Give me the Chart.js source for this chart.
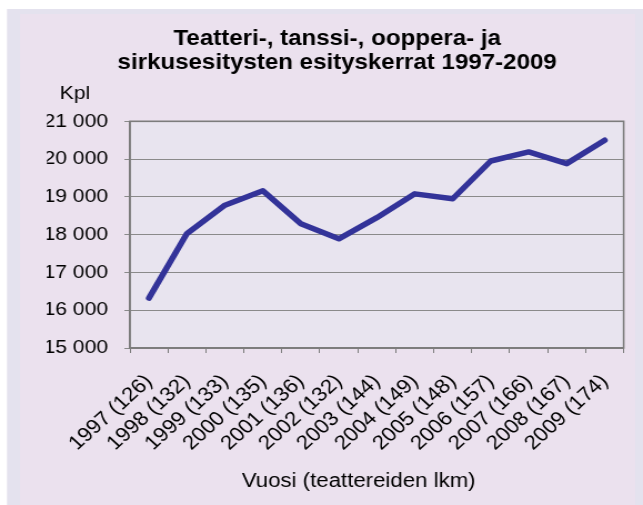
<!DOCTYPE html>
<html>
<head>
<meta charset="utf-8">
<script src="https://cdn.jsdelivr.net/npm/chart.js@4/dist/chart.umd.min.js"></script>
<style>
html, body { margin: 0; padding: 0; background: #ffffff; overflow: hidden; }
#wrap { position: absolute; left: 0; top: 0; width: 579px; height: 505px; transform: scaleX(1.1105); transform-origin: 0 0; }
canvas { display: block; }
</style>
</head>
<body>
<div id="wrap"><canvas id="c" width="579" height="505"></canvas></div>
<script>
// ---- data ----
const categories = ['1997 (126)', '1998 (132)', '1999 (133)', '2000 (135)', '2001 (136)', '2002 (132)', '2003 (144)', '2004 (149)', '2005 (148)', '2006 (157)', '2007 (166)', '2008 (167)', '2009 (174)'];
const performances = [16320, 18030, 18780, 19160, 18290, 17890, 18450, 19080, 18950, 19950, 20190, 19880, 20500];
const yMin = 15000;
const yMax = 21000;
const yStep = 1000;
const titleLines = ['Teatteri-, tanssi-, ooppera- ja', 'sirkusesitysten esityskerrat 1997-2009'];
const yUnitLabel = 'Kpl';
const xAxisTitle = 'Vuosi (teattereiden lkm)';

const FONT = '"Liberation Sans", Arial, Helvetica, sans-serif';
const W = 579, H = 505;

function fmt(v) {
  return String(v).replace(/\B(?=(\d{3})+(?!\d))/g, ' ');
}

const decor = {
  id: 'decor',
  beforeDraw(chart) {
    const ctx = chart.ctx;
    const a = chart.chartArea;
    ctx.save();
    ctx.fillStyle = '#ffffff';
    ctx.fillRect(0, 0, W, H);
    ctx.fillStyle = '#E4E2EE';
    ctx.fillRect(6.3, 9, W, H);
    ctx.fillStyle = '#EBE1EE';
    ctx.fillRect(18, 14, 572 - 18, H - 14);
    ctx.fillStyle = '#E8E4EF';
    ctx.fillRect(a.left, a.top, a.right - a.left, a.bottom - a.top);
    ctx.restore();
  },
  beforeDatasetsDraw(chart) {
    const ctx = chart.ctx;
    const a = chart.chartArea;
    ctx.save();
    ctx.strokeStyle = '#7c7c7c';
    ctx.lineWidth = 1.6;
    ctx.strokeRect(a.left, a.top, a.right - a.left, a.bottom - a.top);
    ctx.restore();
  },
  afterDraw(chart) {
    const ctx = chart.ctx;
    ctx.save();
    ctx.fillStyle = '#000';
    ctx.textAlign = 'center';
    ctx.textBaseline = 'alphabetic';
    ctx.font = '19px ' + FONT;
    ctx.fillText(yUnitLabel, 67.6, 99);
    ctx.font = '20px ' + FONT;
    ctx.fillText(xAxisTitle, 323, 487);
    ctx.restore();
  }
};

new Chart(document.getElementById('c'), {
  type: 'line',
  data: {
    labels: categories,
    datasets: [{
      data: performances,
      borderColor: '#333399',
      borderWidth: 5.5,
      pointRadius: 0,
      pointHoverRadius: 0,
      tension: 0,
      fill: false,
      borderCapStyle: 'round',
      borderJoinStyle: 'round'
    }]
  },
  options: {
    responsive: false,
    animation: false,
    layout: { padding: { left: 42.2, right: 14, top: 0, bottom: 0 } },
    plugins: {
      legend: { display: false },
      tooltip: { enabled: false },
      title: {
        display: true,
        text: titleLines,
        color: '#000',
        font: { family: FONT, size: 21.7, weight: 'bold', lineHeight: 1.09 },
        padding: { top: 27.6, bottom: 46.4 }
      }
    },
    scales: {
      x: {
        offset: true,
        grid: { display: true, drawOnChartArea: false, drawTicks: true, tickLength: 5, color: '#7c7c7c', offset: true },
        border: { display: true, color: '#7c7c7c', width: 1.6 },
        ticks: {
          color: '#000',
          font: { family: FONT, size: 20 },
          minRotation: 45,
          maxRotation: 45,
          autoSkip: false,
          padding: 17
        },
        afterFit(scale) { scale.height = H - 348; }
      },
      y: {
        min: yMin,
        max: yMax,
        grid: { color: '#8a8a8a', lineWidth: 1, tickLength: 5, drawTicks: true },
        border: { display: true, color: '#7c7c7c', width: 1.6 },
        ticks: {
          stepSize: yStep,
          color: '#000',
          font: { family: FONT, size: 19 },
          padding: 14.7,
          callback: (v) => fmt(v)
        },
        afterFit(scale) { scale.width = 117 - 42.2; }
      }
    }
  },
  plugins: [decor]
});
</script>
</body>
</html>
